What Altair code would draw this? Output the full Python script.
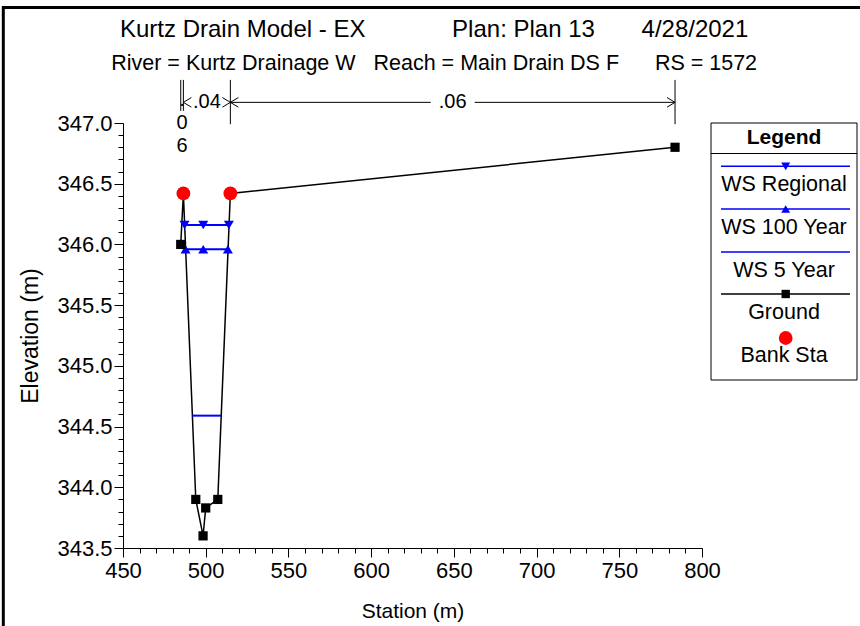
import altair as alt
import pandas as pd

FONT = "Liberation Sans"
NB = "\u00a0"

# ---------------- text ----------------
title_parts = ["Kurtz Drain Model - EX", "Plan: Plan 13", "4/28/2021"]
subtitle_parts = ["River = Kurtz Drainage W", "Reach = Main Drain DS F", "RS = 1572"]
x_title = "Station (m)"
y_title = "Elevation (m)"

# ---------------- data ----------------
ground_sta = [484.9, 486.5, 494.0, 498.4, 500.0, 507.3, 514.9, 783.7]
ground_elev = [346.00, 346.42, 343.90, 343.60, 343.83, 343.90, 346.42, 346.80]

bank_sta = [486.5, 514.9]
bank_elev = [346.42, 346.42]

ws_names = ["WS Regional", "WS 100 Year", "WS 5 Year"]
ws_elev = [346.16, 345.96, 344.59]
ws_left = [487.2, 487.8, 491.9]
ws_right = [514.0, 513.4, 509.3]
ws_marker_sta = [[487.2, 498.5, 514.0], [487.8, 498.5, 513.4], []]
ws_marker_shape = ["triangle-down", "triangle-up", ""]

n_break_sta = [484.9, 486.5, 514.9, 783.7]
n_values = [".06", ".04", ".06"]

x_domain = [450, 800]
y_domain = [343.5, 347.0]
x_ticks = list(range(450, 801, 10))
y_ticks = [round(343.5 + 0.1 * i, 1) for i in range(36)]

legend_labels = ["WS Regional", "WS 100 Year", "WS 5 Year", "Ground", "Bank Sta"]
legend_line_color = ["#0000ff", "#0000ff", "#0000ff", "#000000", ""]
legend_marker = ["triangle-down", "triangle-up", "", "square", "circle"]
legend_marker_color = ["#0000ff", "#0000ff", "", "#000000", "#ff0000"]
legend_marker_size = [80, 80, 0, 70, 190]

# ---------------- layout ----------------
W, H = 579, 425
px_per_x = W / (x_domain[1] - x_domain[0])
ann_line_elev = 347.17
ann_top = 347.355
ann_bottom = [347.10, 347.10, 346.99, 346.99]
stack_elev = [347.19, 347.0, 346.81]
gap_px = 22

LEG_W, LEG_H = 146, 257
leg_title_y = 14.5
leg_sep_y = 30.5
leg_line_y = [43.3, 86, 129, 171, 215]
leg_text_y = [62, 105, 148, 190, 233]
leg_line_x = [10, 139]
leg_marker_x = 74.7

# ---------------- main chart ----------------
major_test_x = "datum.value % 50 === 0"
major_test_y = "abs(datum.value * 2 - round(datum.value * 2)) < 0.000001"

x_axis = alt.Axis(
    values=x_ticks, title=x_title,
    labelExpr=f"{major_test_x} ? format(datum.value, 'd') : ''",
    tickSize={"condition": {"test": major_test_x, "value": 9}, "value": 5},
    labelOverlap=False, labelFlush=False, grid=False,
    domainColor="black", tickColor="black", labelColor="black", titleColor="black",
    labelFont=FONT, titleFont=FONT, labelFontSize=22, titleFontSize=21,
    titleFontWeight="normal", labelPadding=3, titlePadding=19,
)
y_axis = alt.Axis(
    values=y_ticks, title=y_title,
    labelExpr=f"{major_test_y} ? format(datum.value, '.1f') : ''",
    tickSize={"condition": {"test": major_test_y, "value": 9}, "value": 5},
    labelOverlap=False, labelFlush=False, grid=False,
    domainColor="black", tickColor="black", labelColor="black", titleColor="black",
    labelFont=FONT, titleFont=FONT, labelFontSize=22, titleFontSize=23,
    titleFontWeight="normal", labelPadding=2, titlePadding=14,
)
x_scale = alt.Scale(domain=x_domain, nice=False, zero=False)
y_scale = alt.Scale(domain=y_domain, nice=False, zero=False)
X = alt.X("sta:Q", scale=x_scale, axis=x_axis)
Y = alt.Y("elev:Q", scale=y_scale, axis=y_axis)

ground_df = pd.DataFrame({"sta": ground_sta, "elev": ground_elev, "i": range(len(ground_sta))})
bank_df = pd.DataFrame({"sta": bank_sta, "elev": bank_elev})
ws_df = pd.DataFrame({"name": ws_names, "sta": ws_left, "sta2": ws_right, "elev": ws_elev})
ws_mk = []
for nm, e, stas, shp in zip(ws_names, ws_elev, ws_marker_sta, ws_marker_shape):
    for s in stas:
        ws_mk.append({"name": nm, "sta": s, "elev": e, "shape": shp})
ws_mk_df = pd.DataFrame(ws_mk)

# Manning's n annotation above the plot
vl_df = pd.DataFrame({"sta": n_break_sta, "elev": [ann_top] * 4, "elev2": ann_bottom})
lab_rows, seg_rows, chev_rows = [], [], []
gap_u = gap_px / px_per_x
for i, nv in enumerate(n_values):
    a, b = n_break_sta[i], n_break_sta[i + 1]
    wpx = (b - a) * px_per_x
    c = (a + b) / 2
    if wpx < 20:
        for ch, e in zip(nv, stack_elev):
            lab_rows.append({"sta": c, "elev": e, "t": ch})
        continue
    lab_rows.append({"sta": c, "elev": ann_line_elev, "t": nv})
    chev_rows.append({"sta": a, "elev": ann_line_elev, "shape": "M1,-0.6L0,0L1,0.6"})
    chev_rows.append({"sta": b, "elev": ann_line_elev, "shape": "M-1,-0.6L0,0L-1,0.6"})
    if wpx > 2 * gap_px + 10:
        seg_rows.append({"sta": a, "sta2": c - gap_u, "elev": ann_line_elev})
        seg_rows.append({"sta": c + gap_u, "sta2": b, "elev": ann_line_elev})
lab_df = pd.DataFrame(lab_rows)
seg_df = pd.DataFrame(seg_rows)
chev_df = pd.DataFrame(chev_rows)

ground_line = alt.Chart(ground_df).mark_line(color="black", strokeWidth=1.5, clip=False).encode(
    x=X, y=Y, order="i:Q")
ws_lines = alt.Chart(ws_df).mark_rule(color="#0000ff", strokeWidth=2, clip=False).encode(
    x=X, x2="sta2:Q", y=Y)
ws_markers = alt.Chart(ws_mk_df).mark_point(filled=True, color="#0000ff", size=100, opacity=1, clip=False).encode(
    x=X, y=Y, shape=alt.Shape("shape:N", scale=None))
ground_pts = alt.Chart(ground_df).mark_point(shape="square", filled=True, color="black", size=85, opacity=1, clip=False).encode(
    x=X, y=Y)
bank_pts = alt.Chart(bank_df).mark_point(shape="circle", filled=True, color="#ff0000", size=190, opacity=1, clip=False).encode(
    x=X, y=Y)
vlines = alt.Chart(vl_df).mark_rule(color="black", strokeWidth=1, clip=False).encode(
    x=X, y=Y, y2="elev2:Q")
segs = alt.Chart(seg_df).mark_rule(color="black", strokeWidth=1, clip=False).encode(
    x=X, x2="sta2:Q", y=Y)
chevs = alt.Chart(chev_df).mark_point(filled=False, color="black", strokeWidth=1, size=256, opacity=1, clip=False).encode(
    x=X, y=Y, shape=alt.Shape("shape:N", scale=None))
labs = alt.Chart(lab_df).mark_text(font=FONT, fontSize=20, color="black", baseline="middle", align="center", clip=False).encode(
    x=X, y=Y, text="t:N")
frame = alt.Chart(pd.DataFrame({"a": [0]})).mark_rect(fillOpacity=0, stroke="black", strokeWidth=3).encode(
    x=alt.value(-119.7), x2=alt.value(750), y=alt.value(-115.5), y2=alt.value(520))

main = alt.layer(ground_line, ws_lines, ws_markers, ground_pts, bank_pts,
                 vlines, segs, chevs, labs, frame).properties(width=W, height=H)

# ---------------- legend panel ----------------
lx = alt.Scale(domain=[0, LEG_W], nice=False, zero=False)
ly = alt.Scale(domain=[0, LEG_H], nice=False, zero=False, reverse=True)
leg_df = pd.DataFrame({
    "label": legend_labels, "lc": legend_line_color, "mk": legend_marker,
    "mc": legend_marker_color, "ms": legend_marker_size,
    "ly": leg_line_y, "ty": leg_text_y,
    "x0": [leg_line_x[0]] * 5, "x1": [leg_line_x[1]] * 5, "xm": [leg_marker_x] * 5,
    "xt": [LEG_W / 2] * 5,
})
box_df = pd.DataFrame({"x0": [0], "x1": [LEG_W], "y0": [0], "y1": [LEG_H],
                       "sy": [leg_sep_y], "ty": [leg_title_y], "xt": [LEG_W / 2], "t": ["Legend"]})
box = alt.Chart(box_df).mark_rect(fillOpacity=0, stroke="black", strokeWidth=1).encode(
    x=alt.X("x0:Q", scale=lx, axis=None), x2="x1:Q",
    y=alt.Y("y0:Q", scale=ly, axis=None), y2="y1:Q")
sep = alt.Chart(box_df).mark_rule(color="black", strokeWidth=1).encode(
    x=alt.X("x0:Q", scale=lx, axis=None), x2="x1:Q", y=alt.Y("sy:Q", scale=ly, axis=None))
ltitle = alt.Chart(box_df).mark_text(font=FONT, fontSize=21, fontWeight="bold", color="black", baseline="middle").encode(
    x=alt.X("xt:Q", scale=lx, axis=None), y=alt.Y("ty:Q", scale=ly, axis=None), text="t:N")
llines = alt.Chart(leg_df).transform_filter("datum.lc != ''").mark_rule(strokeWidth=1.5).encode(
    x=alt.X("x0:Q", scale=lx, axis=None), x2="x1:Q", y=alt.Y("ly:Q", scale=ly, axis=None),
    color=alt.Color("lc:N", scale=None))
lmarks = alt.Chart(leg_df).transform_filter("datum.mk != ''").mark_point(filled=True, opacity=1).encode(
    x=alt.X("xm:Q", scale=lx, axis=None), y=alt.Y("ly:Q", scale=ly, axis=None),
    shape=alt.Shape("mk:N", scale=None), color=alt.Color("mc:N", scale=None),
    size=alt.Size("ms:Q", scale=None))
ltext = alt.Chart(leg_df).mark_text(font=FONT, fontSize=21.5, color="black", baseline="middle").encode(
    x=alt.X("xt:Q", scale=lx, axis=None), y=alt.Y("ty:Q", scale=ly, axis=None), text="label:N")
legend = alt.layer(box, sep, ltitle, llines, lmarks, ltext).properties(width=LEG_W, height=LEG_H)

title_text = title_parts[0] + NB * 13 + title_parts[1] + NB * 7 + title_parts[2]
subtitle_text = subtitle_parts[0] + NB * 3 + subtitle_parts[1] + NB * 6 + subtitle_parts[2]

chart = alt.hconcat(main, legend, spacing=9, bounds="flush").properties(
    title=alt.TitleParams(text=title_text, subtitle=subtitle_text, font=FONT, fontSize=24,
                          fontWeight="normal", subtitleFont=FONT, subtitleFontSize=21.5,
                          color="black", subtitleColor="black", anchor="middle",
                          subtitlePadding=11, offset=6, dy=74, dx=-4),
    autosize=alt.AutoSizeParams(type="none"),
    padding={"left": 123, "top": 123, "right": 737, "bottom": 503},
    background="white",
).configure_view(strokeWidth=0)

chart.save("out.html", embed_options={"renderer": "svg", "actions": False})
